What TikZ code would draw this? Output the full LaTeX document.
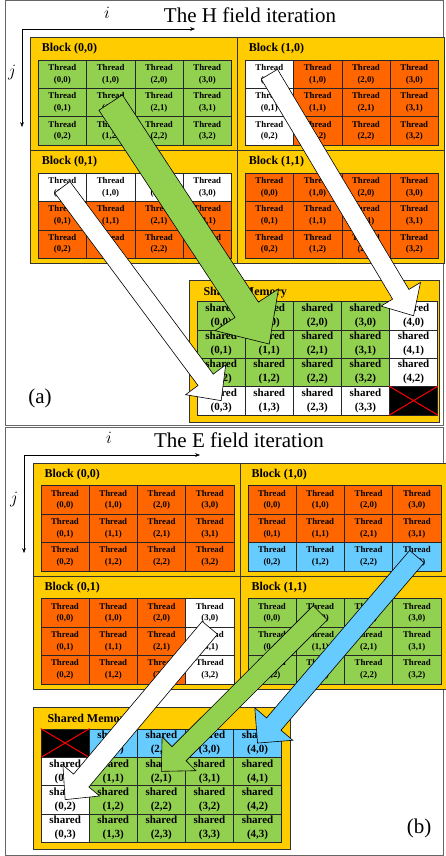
\documentclass[tikz,border=0pt]{standalone}
\usepackage{fontspec}
\setmainfont{Liberation Serif}
\usetikzlibrary{arrows.meta,calc,positioning}
\definecolor{memyellow}{RGB}{255,204,0}
\definecolor{grn}{RGB}{146,208,80}
\definecolor{org}{RGB}{255,102,0}
\definecolor{blu}{RGB}{102,204,255}
\colorlet{wht}{white}
\tikzset{
  panel/.style={draw=black!60,line width=1pt},
  blockbox/.style={draw=black!80,fill=memyellow,line width=0.7pt},
  cell/.style={draw=black!85,line width=0.6pt,anchor=north west,inner sep=0pt,
    minimum width=48.3pt,minimum height=28.4pt,align=center,
    font=\bfseries\fontsize{8.8}{11.5}\selectfont},
  shcell/.style={cell,minimum width=48.1pt,minimum height=28.3pt,
    font=\bfseries\fontsize{11}{14}\selectfont},
  blocklabel/.style={anchor=west,inner sep=0pt,font=\bfseries\fontsize{12}{14}\selectfont},
  titletext/.style={font=\fontsize{21}{24}\selectfont},
  axislabel/.style={font=\itshape\fontsize{17}{20}\selectfont},
  bigarrow/.style={draw=black,line width=0.6pt,line join=miter}
}
% yellow block with a 4x3 grid of threads, colours row by row
\newcommand\threadblock[5]{%
  \draw[blockbox] (#2,#3) rectangle ++(207,113);
  \node[blocklabel] at (#2+11,#3+11) {#4};
  \foreach \cc [count=\k from 0] in {#5}{%
    \pgfmathtruncatemacro\col{mod(\k,4)}%
    \pgfmathtruncatemacro\rw{floor(\k/4)}%
    \node[cell,fill=\cc] (#1-\col-\rw) at (#2+7.2+48.3*\col,#3+22+28.4*\rw) {Thread\\(\col,\rw)};
  }}
% shared memory, 5x4 cells, #5 = index of the unused cell, #6 = width
\newcommand\sharedblock[6]{%
  \draw[blockbox] (#2,#3) rectangle ++(#6,142);
  \node[blocklabel] at (#2+14,#3+12.5) {Shared Memory};
  \foreach \cc [count=\k from 0] in {#4}{%
    \pgfmathtruncatemacro\col{mod(\k,5)}%
    \pgfmathtruncatemacro\rw{floor(\k/5)}%
    \ifnum\k=#5
      \node[shcell,fill=black] (#1-\col-\rw) at (#2+7.5+48.1*\col,#3+21.3+28.3*\rw) {};
      \draw[red,line width=1pt] (#1-\col-\rw.north west) -- (#1-\col-\rw.south east)
        (#1-\col-\rw.south west) -- (#1-\col-\rw.north east);
    \else
      \node[shcell,fill=\cc] (#1-\col-\rw) at (#2+7.5+48.1*\col,#3+21.3+28.3*\rw) {shared\\(\col,\rw)};
    \fi
  }}
% block arrow: fill, tail, tip, half shaft, half head, head length
\newcommand\bigarrow[6]{%
  \coordinate (ab) at ($(#3)!#6!(#2)$);
  \draw[bigarrow,fill=#1] ($(#2)!#4!90:(#3)$) -- ($(ab)!#4!90:(#3)$)
    -- ($(ab)!#5!90:(#3)$) -- (#3) -- ($(ab)!#5!-90:(#3)$)
    -- ($(ab)!#4!-90:(#3)$) -- ($(#2)!#4!-90:(#3)$) -- cycle;
}

\begin{document}
\begin{tikzpicture}[x=1pt,y=-1pt,>=Stealth]
  \useasboundingbox (0,0) rectangle (445,856);

  % (a) H field
  \draw[panel] (5,1) rectangle (443,425);
  \node[titletext] (htitle) at (250,15) {The H field iteration};
  \coordinate (ho) at (22,29);
  \coordinate (hi) at (195,29);
  \coordinate (hj) at (22,127);
  \draw[->] (ho) -- (hi);
  \draw[->] (ho) -- (hj);
  \node[axislabel] (hilab) at (107,13) {$i$};
  \node[axislabel] (hjlab) at (12,73) {$j$};

  \threadblock{hb00}{30.7}{37.7}{Block (0,0)}{grn,grn,grn,grn,grn,grn,grn,grn,grn,grn,grn,grn}
  \threadblock{hb10}{237.7}{37.7}{Block (1,0)}{wht,org,org,org,wht,org,org,org,wht,org,org,org}
  \threadblock{hb01}{30.7}{150.7}{Block (0,1)}{wht,wht,wht,wht,org,org,org,org,org,org,org,org}
  \threadblock{hb11}{237.7}{150.7}{Block (1,1)}{org,org,org,org,org,org,org,org,org,org,org,org}
  \sharedblock{hs}{189.3}{280}{grn,grn,grn,grn,wht,grn,grn,grn,grn,wht,grn,grn,grn,grn,wht,wht,wht,wht,wht,blk}{19}{250}
  \node[titletext] (hname) at (40,398) {(a)};

  \bigarrow{grn}{hb00-1-1.center}{hs-1-1.center}{14pt}{38pt}{41pt}
  \bigarrow{wht}{hb10-0-0.center}{hs-4-0.center}{9.5pt}{23pt}{25pt}
  \bigarrow{wht}{hb01-0-0.center}{hs-0-3.center}{9.5pt}{25pt}{26pt}

  % (b) E field
  \draw[panel] (5,427) rectangle (443,855);
  \node[titletext] (etitle) at (239,440) {The E field iteration};
  \coordinate (eo) at (24,455);
  \coordinate (ei) at (200,455);
  \coordinate (ej) at (24,553);
  \draw[->] (eo) -- (ei);
  \draw[->] (eo) -- (ej);
  \node[axislabel] (eilab) at (109,438) {$i$};
  \node[axislabel] (ejlab) at (14,500) {$j$};

  \threadblock{eb00}{33.3}{463.3}{Block (0,0)}{org,org,org,org,org,org,org,org,org,org,org,org}
  \threadblock{eb10}{240.3}{463.3}{Block (1,0)}{org,org,org,org,org,org,org,org,blu,blu,blu,blu}
  \threadblock{eb01}{33.3}{576.3}{Block (0,1)}{org,org,org,wht,org,org,org,wht,org,org,org,wht}
  \threadblock{eb11}{240.3}{576.3}{Block (1,1)}{grn,grn,grn,grn,grn,grn,grn,grn,grn,grn,grn,grn}
  \sharedblock{es}{33.3}{707.3}{blk,blu,blu,blu,blu,wht,grn,grn,grn,grn,wht,grn,grn,grn,grn,wht,grn,grn,grn,grn}{0}{257}
  \node[titletext] (ename) at (419,828) {(b)};

  \bigarrow{wht}{$(eb01-3-0.center)+(0,15)$}{es-0-2.center}{10pt}{24pt}{25pt}
  \bigarrow{grn}{eb11-1-0.center}{es-2-1.center}{10pt}{24pt}{25pt}
  \bigarrow{blu}{eb10-3-2.center}{es-4-0.center}{9.5pt}{25pt}{25pt}
\end{tikzpicture}
\end{document}
